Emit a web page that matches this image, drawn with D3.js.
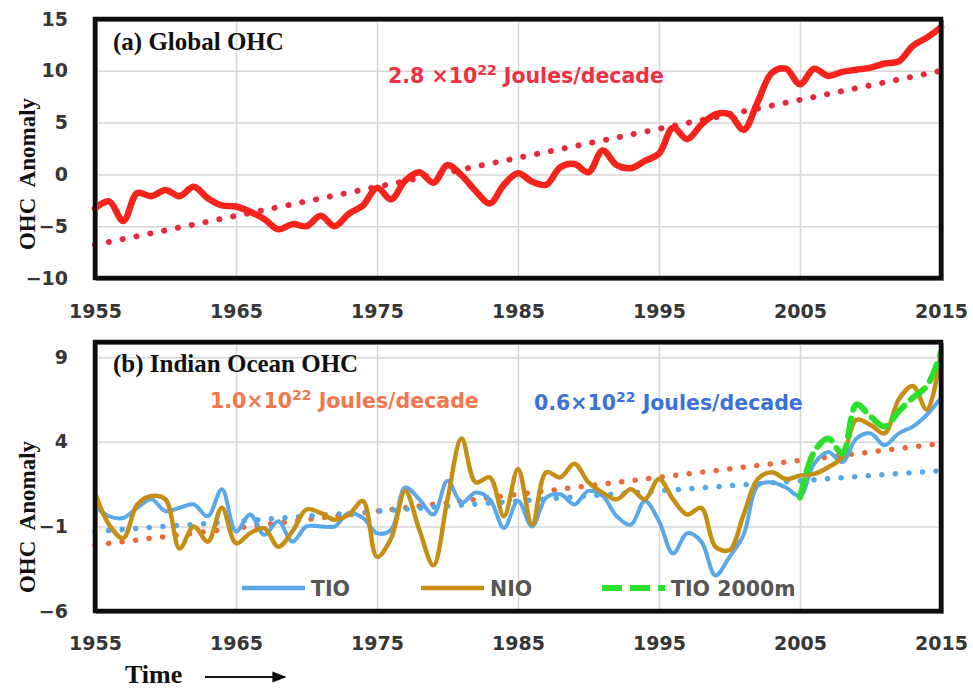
<!DOCTYPE html>
<html>
<head>
<meta charset="utf-8">
<script src="https://cdn.jsdelivr.net/npm/d3@7/dist/d3.min.js"></script>
<style>
body { margin: 0; background: #fff; }
svg { display: block; }
</style>
</head>
<body>
<div id="chart"></div>
<script>
var startYear = 1955;
var xTicks = [1955, 1965, 1975, 1985, 1995, 2005, 2015];
var yTicksA = [-10, -5, 0, 5, 10, 15];
var yTicksB = [-6, -1, 4, 9];

// global OHC anomaly, one value per year 1955..2015
var globalOHC = [-3.3, -2.6, -4.5, -1.8, -2.1, -1.5, -2.1, -1.2, -2.3, -3.0,
                 -3.1, -3.6, -4.3, -5.3, -4.8, -5.0, -4.0, -5.0, -3.8, -3.0,
                 -1.3, -2.4, -0.6, 0.2, -0.8, 0.9, -0.1, -1.6, -2.8, -1.0,
                 0.1, -0.7, -1.0, 0.7, 1.0, 0.2, 2.3, 0.9, 0.6, 1.3,
                 2.0, 4.5, 3.4, 4.8, 5.8, 5.8, 4.3, 7.0, 9.8, 10.2,
                 8.7, 10.2, 9.5, 9.9, 10.1, 10.3, 10.7, 10.9, 12.4, 13.2, 14.2];

var tio = [0.2, -0.4, -0.5, 0.1, 0.6, -0.1, 0.1, 0.3, -0.4, 1.2,
           -1.3, -0.3, -1.5, -0.7, -1.9, -1.0, -1.0, -1.0, -0.2, -0.5,
           -1.4, -1.2, 1.3, 0.6, -0.3, 1.7, 0.4, 1.0, 0.6, -1.1,
           0.5, -1.0, 0.7, 0.9, 0.3, 1.1, 0.8, -0.4, -0.9, 0.5,
           -0.7, -2.6, -1.4, -1.9, -3.9, -2.8, -1.5, 1.4, 1.6, 1.3,
           0.8, 2.7, 3.4, 2.8, 4.2, 4.5, 3.8, 4.5, 4.9, 5.6, 6.6];

var nio = [1.0, -0.9, -1.7, 0.3, 0.8, 0.6, -2.3, -1.0, -1.9, 0.1,
           -2.0, -1.4, -1.1, -2.2, -1.3, 0.0, -0.2, -0.6, -0.3, 0.5,
           -2.8, -1.7, 1.1, -1.2, -3.3, 0.6, 4.2, 1.6, 1.9, -0.4,
           2.4, -0.9, 2.2, 1.9, 2.7, 1.6, 1.0, 0.6, 1.2, 0.6,
           1.8, 0.6, -0.3, 0.1, -2.2, -2.4, -0.3, 1.8, 2.2, 1.8,
           2.0, 2.1, 2.5, 3.1, 5.3, 5.0, 4.5, 6.5, 7.3, 5.9, 9.3];

var tio2000Start = 2005;
var tio2000 = [0.7, 3.4, 4.2, 3.3, 6.2, 5.5, 4.9, 5.8, 6.6, 7.3, 9.3];

// linear trends: [year, value] at both ends
var globalTrend = [[1955, -6.8], [2015, 10.0]];
var nioTrend = [[1955, -2.1], [2015, 3.9]];
var tioTrend = [[1955, -1.3], [2015, 2.3]];

var width = 973, height = 688;
var left = 95, right = 941;

var svg = d3.select("#chart").append("svg")
    .attr("width", width)
    .attr("height", height);

var x = d3.scaleLinear().domain([1955, 2015]).range([left, right]);
var yA = d3.scaleLinear().domain([-10, 15]).range([278, 19]);
var yB = d3.scaleLinear().domain([-6, 9.9]).range([611, 342]);

function toPoints(values, first) {
    return values.map(function(v, i) { return [first + i, v]; });
}

function drawPanel(y, yTicks, labelY) {
    var g = svg.append("g");
    var top = y.range()[1], bottom = y.range()[0];

    // grid
    g.append("g")
        .attr("transform", "translate(0," + bottom + ")")
        .call(d3.axisBottom(x).tickValues(xTicks.slice(1, -1)).tickSize(-(bottom - top)).tickFormat(""))
        .call(function(a) { a.select(".domain").remove(); })
        .selectAll("line").attr("stroke", "#d6d6d6").attr("stroke-width", 1.5);
    g.append("g")
        .attr("transform", "translate(" + left + ",0)")
        .call(d3.axisLeft(y).tickValues(yTicks).tickSize(-(right - left)).tickFormat(""))
        .call(function(a) { a.select(".domain").remove(); })
        .selectAll("line").attr("stroke", "#d6d6d6").attr("stroke-width", 1.5);

    // tick labels
    var ya = g.append("g")
        .attr("transform", "translate(" + left + ",0)")
        .call(d3.axisLeft(y).tickValues(yTicks).tickSize(0).tickPadding(27));
    ya.select(".domain").remove();
    var xa = g.append("g")
        .attr("transform", "translate(0," + bottom + ")")
        .call(d3.axisBottom(x).tickValues(xTicks).tickSize(0).tickFormat(d3.format("d")));
    xa.select(".domain").remove();
    xa.selectAll("text").attr("y", labelY - bottom).attr("dy", null);

    g.selectAll(".tick text")
        .attr("font-family", "DejaVu Sans")
        .attr("font-weight", "bold")
        .attr("font-size", 19)
        .attr("fill", "#363636");
    return g;
}

function frame(y) {
    var top = y.range()[1], bottom = y.range()[0];
    svg.append("rect")
        .attr("x", left + 2).attr("y", top + 2)
        .attr("width", right - left).attr("height", bottom - top)
        .attr("fill", "none").attr("stroke", "#8a8a8a").attr("stroke-width", 2);
    svg.append("rect")
        .attr("x", left).attr("y", top)
        .attr("width", right - left).attr("height", bottom - top)
        .attr("fill", "none").attr("stroke", "#0d0d0d").attr("stroke-width", 4.5);
}

function drawLine(y, pts, color, w, dash, curve) {
    var line = d3.line()
        .x(function(d) { return x(d[0]); })
        .y(function(d) { return y(d[1]); })
        .curve(curve || d3.curveCatmullRom.alpha(0.5));
    return svg.append("path")
        .datum(pts)
        .attr("d", line)
        .attr("fill", "none")
        .attr("stroke", color)
        .attr("stroke-width", w)
        .attr("stroke-linejoin", "round")
        .attr("stroke-linecap", "round")
        .attr("stroke-dasharray", dash || null);
}

function trendLabel(tx, ty, lead, color) {
    var t = svg.append("text")
        .attr("x", tx).attr("y", ty)
        .attr("font-family", "DejaVu Sans")
        .attr("font-weight", "bold")
        .attr("font-size", 20.5)
        .attr("fill", color);
    t.append("tspan").text(lead);
    t.append("tspan").attr("dy", -8).attr("font-size", 14).text("22");
    t.append("tspan").attr("dy", 8).text(" Joules/decade");
}

function serifText(tx, ty, str, size, rotate) {
    return svg.append("text")
        .attr("x", tx).attr("y", ty)
        .attr("font-family", "Liberation Serif")
        .attr("font-weight", "bold")
        .attr("font-size", size)
        .attr("fill", "#111")
        .attr("text-anchor", rotate ? "middle" : "start")
        .attr("transform", rotate ? "rotate(-90," + tx + "," + ty + ")" : null)
        .style("white-space", "pre")
        .text(str);
}

// ---- panel (a)
drawPanel(yA, yTicksA, 318);
drawLine(yA, globalTrend, "#e8283e", 6, "0.1,14", d3.curveLinear);
drawLine(yA, toPoints(globalOHC, startYear), "#f5231a", 6.5);
frame(yA);
serifText(113, 50, "(a) Global OHC", 25);
trendLabel(388, 83, "2.8 \u00d710", "#ef2f42");
serifText(35, 174, "OHC  Anomaly", 23, true);

// ---- panel (b)
drawPanel(yB, yTicksB, 650);
drawLine(yB, nioTrend, "#f0683a", 5.5, "0.1,13.5", d3.curveLinear);
drawLine(yB, tioTrend, "#52a6ea", 5.5, "0.1,13.5", d3.curveLinear);
drawLine(yB, toPoints(tio, startYear), "#58a8ea", 4);
drawLine(yB, toPoints(nio, startYear), "#c68f14", 4.5);
drawLine(yB, toPoints(tio2000, tio2000Start), "#2be02b", 6, "18,9");
frame(yB);
serifText(113, 372, "(b) Indian Ocean OHC", 25);
trendLabel(210, 408, "1.0\u00d710", "#f2774a");
trendLabel(534, 410, "0.6\u00d710", "#3a72da");
serifText(35, 517, "OHC  Anomaly", 23, true);

// legend
var legend = [
    {name: "TIO", color: "#58a8ea", w: 4.5, dash: null, x0: 242},
    {name: "NIO", color: "#c68f14", w: 4.5, dash: null, x0: 421},
    {name: "TIO 2000m", color: "#2be02b", w: 6, dash: "20,8", x0: 602}
];
var lg = svg.append("g").selectAll("g").data(legend).enter().append("g");
lg.append("line")
    .attr("x1", function(d) { return d.x0; })
    .attr("x2", function(d) { return d.x0 + 63; })
    .attr("y1", 588).attr("y2", 588)
    .attr("stroke", function(d) { return d.color; })
    .attr("stroke-width", function(d) { return d.w; })
    .attr("stroke-dasharray", function(d) { return d.dash; });
lg.append("text")
    .attr("x", function(d) { return d.x0 + 69; })
    .attr("y", 596)
    .attr("font-family", "DejaVu Sans")
    .attr("font-weight", "bold")
    .attr("font-size", 20.5)
    .attr("fill", "#555")
    .text(function(d) { return d.name; });

// Time arrow
serifText(125, 683, "Time", 26);
svg.append("defs").append("marker")
    .attr("id", "arrow")
    .attr("viewBox", "0 0 10 10")
    .attr("refX", 9).attr("refY", 5)
    .attr("markerWidth", 7).attr("markerHeight", 7)
    .attr("orient", "auto")
    .append("path").attr("d", "M0,1L10,5L0,9Z").attr("fill", "#111");
svg.append("line")
    .attr("x1", 205).attr("x2", 285)
    .attr("y1", 677).attr("y2", 677)
    .attr("stroke", "#111").attr("stroke-width", 2)
    .attr("marker-end", "url(#arrow)");
</script>
</body>
</html>
